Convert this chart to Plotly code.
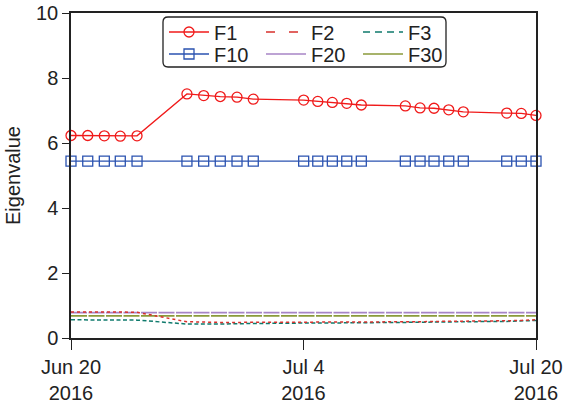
import plotly.graph_objects as go

# Position of each trading day on the time axis (days after Jun 20, 2016)
day_pos = [0.00, 1.08, 2.15, 3.18, 4.26,
           7.48, 8.56, 9.63, 10.71, 11.76,
           15.01, 15.92, 16.86, 17.79, 18.73,
           21.57, 22.52, 23.42, 24.37, 25.31,
           28.11, 29.05, 30.00]

tick_pos = [0, 15, 30]
tick_text = ["Jun 20<br>2016", "Jul 4<br>2016", "Jul 20<br>2016"]

# Eigenvalues of selected factors
F1 = [6.23, 6.23, 6.22, 6.21, 6.22,
      7.51, 7.46, 7.43, 7.41, 7.35,
      7.32, 7.28, 7.25, 7.22, 7.17,
      7.14, 7.08, 7.07, 7.02, 6.96,
      6.92, 6.91, 6.85]
F2 = [0.80, 0.81, 0.80, 0.80, 0.79,
      0.50, 0.48, 0.48, 0.48, 0.48,
      0.48, 0.49, 0.49, 0.49, 0.49,
      0.50, 0.50, 0.51, 0.51, 0.52,
      0.53, 0.54, 0.56]
F3 = [0.56, 0.56, 0.55, 0.55, 0.55,
      0.43, 0.42, 0.43, 0.44, 0.45,
      0.46, 0.46, 0.47, 0.47, 0.47,
      0.48, 0.48, 0.49, 0.49, 0.50,
      0.51, 0.52, 0.54]
F10 = [5.44] * 23
F20 = [0.78] * 23
F30 = [0.68] * 23

W, H = 564, 406
ML, MR, MT, MB = 71, 28, 13, 68
PW, PH = W - ML - MR, H - MT - MB

FONT = "Liberation Sans, Arial, sans-serif"
TXT = "#222222"

C_F1, C_F2, C_F3 = "#f01a1a", "#d8302c", "#0f7a6c"
C_F10, C_F20, C_F30 = "#2a52b0", "#a784c6", "#8a9a3a"

fig = go.Figure()

# lower-eigenvalue factors first so the markers sit on top
fig.add_trace(go.Scatter(x=day_pos, y=F20, name="F20", mode="lines",
                         line=dict(color=C_F20, width=1.7, dash="16px,1.5px"),
                         showlegend=False, cliponaxis=False))
fig.add_trace(go.Scatter(x=day_pos, y=F30, name="F30", mode="lines",
                         line=dict(color=C_F30, width=1.7, dash="16px,1.5px"),
                         showlegend=False, cliponaxis=False))
fig.add_trace(go.Scatter(x=day_pos, y=F3, name="F3", mode="lines",
                         line=dict(color=C_F3, width=1.5, dash="4px,2.5px"),
                         showlegend=False, cliponaxis=False))
fig.add_trace(go.Scatter(x=day_pos, y=F2, name="F2", mode="lines",
                         line=dict(color=C_F2, width=1.5, dash="3px,3px"),
                         showlegend=False, cliponaxis=False))
fig.add_trace(go.Scatter(x=day_pos, y=F10, name="F10", mode="lines+markers",
                         line=dict(color=C_F10, width=1.3),
                         marker=dict(symbol="square-open", size=10,
                                     color=C_F10, line=dict(width=1.3)),
                         legend="legend2", legendrank=1, cliponaxis=False))
fig.add_trace(go.Scatter(x=day_pos, y=F1, name="F1", mode="lines+markers",
                         line=dict(color=C_F1, width=1.3),
                         marker=dict(symbol="circle-open", size=10,
                                     color=C_F1, line=dict(width=1.3)),
                         legend="legend", legendrank=1, cliponaxis=False))

# legend keys for the thin lines (their line style in the key)
for name, color, dash, leg, rank in [("F2", C_F2, "9px,14px", "legend", 2),
                                     ("F3", C_F3, "7px,5px", "legend", 3),
                                     ("F20", C_F20, "solid", "legend2", 2),
                                     ("F30", C_F30, "solid", "legend2", 3)]:
    fig.add_trace(go.Scatter(x=[None], y=[None], name=name, mode="lines",
                             line=dict(color=color, width=1.4, dash=dash),
                             legend=leg, legendrank=rank))

# legend rows: F1 F2 F3 / F10 F20 F30
legend_common = dict(orientation="h", xref="container", yref="container",
                     xanchor="left", yanchor="middle", x=164 / W,
                     bgcolor="rgba(0,0,0,0)", borderwidth=0,
                     font=dict(family=FONT, size=20, color=TXT),
                     itemwidth=40, entrywidth=42, entrywidthmode="pixels",
                     traceorder="normal", tracegroupgap=0)

# frame around the two legend rows (rounded rectangle)
x0p, x1p = (163 - ML) / PW, (446 - ML) / PW
y0p, y1p = (MT + PH - 67) / PH, (MT + PH - 17) / PH
rx, ry = 5 / PW, 5 / PH
frame_path = (f"M{x0p + rx},{y1p} L{x1p - rx},{y1p} Q{x1p},{y1p} {x1p},{y1p - ry} "
              f"L{x1p},{y0p + ry} Q{x1p},{y0p} {x1p - rx},{y0p} "
              f"L{x0p + rx},{y0p} Q{x0p},{y0p} {x0p},{y0p + ry} "
              f"L{x0p},{y1p - ry} Q{x0p},{y1p} {x0p + rx},{y1p} Z")

fig.update_layout(
    width=W, height=H,
    margin=dict(l=ML, r=MR, t=MT, b=MB, autoexpand=False),
    paper_bgcolor="white", plot_bgcolor="white",
    font=dict(family=FONT, size=20, color=TXT),
    legend=dict(legend_common, y=1 - 32 / H),
    legend2=dict(legend_common, y=1 - 54 / H),
    shapes=[dict(type="path", xref="paper", yref="paper", path=frame_path,
                 line=dict(color="#222222", width=1.3), fillcolor="rgba(0,0,0,0)",
                 layer="above")],
    xaxis=dict(range=[0, 30], tickvals=tick_pos, ticktext=tick_text,
               showgrid=False, zeroline=False,
               showline=True, linecolor="#222222", linewidth=1.5, mirror=True,
               ticks="outside", ticklen=10, tickwidth=1.3, tickcolor="#222222",
               tickfont=dict(size=20)),
    yaxis=dict(range=[0, 10], dtick=2, showgrid=False, zeroline=False,
               showline=True, linecolor="#222222", linewidth=1.5, mirror=True,
               ticks="outside", ticklen=7, tickwidth=1.3, tickcolor="#222222",
               tickfont=dict(size=20),
               title=dict(text="Eigenvalue", font=dict(size=20), standoff=10)),
)

fig.write_html("out.html")
